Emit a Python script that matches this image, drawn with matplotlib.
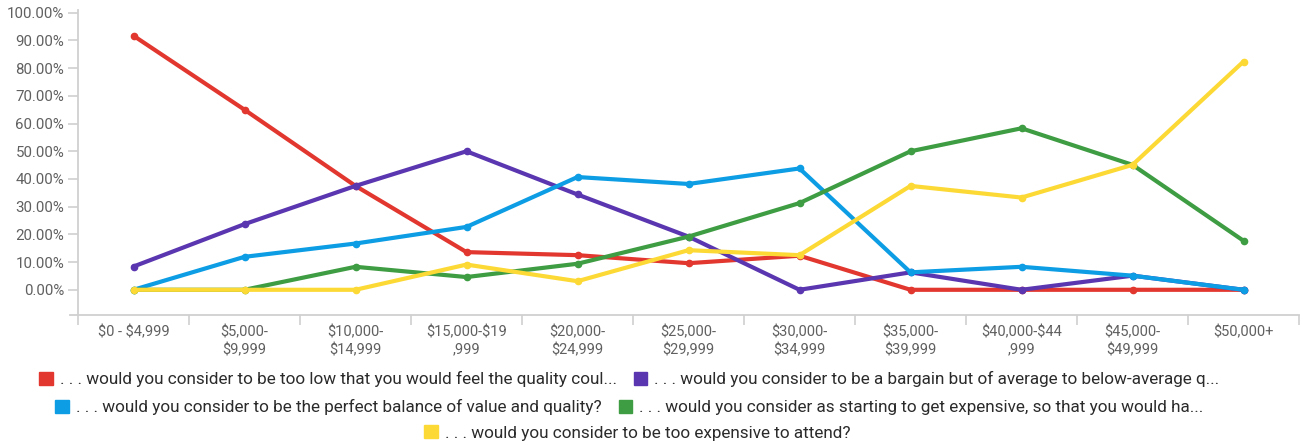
import matplotlib
matplotlib.use("Agg")
import matplotlib.pyplot as plt
from matplotlib.lines import Line2D
from matplotlib.patches import Patch
from matplotlib.ticker import FuncFormatter

plt.rcParams['font.family'] = ['Roboto', 'DejaVu Sans']
plt.rcParams['text.parse_math'] = False

categories = ["$0 - $4,999", "$5,000-\n$9,999", "$10,000-\n$14,999", "$15,000-$19\n,999",
              "$20,000-\n$24,999", "$25,000-\n$29,999", "$30,000-\n$34,999", "$35,000-\n$39,999",
              "$40,000-$44\n,999", "$45,000-\n$49,999", "$50,000+"]

series_names = [
    ". . . would you consider to be too low that you would feel the quality coul...",
    ". . . would you consider to be a bargain but of average to below-average q...",
    ". . . would you consider to be the perfect balance of value and quality?",
    ". . . would you consider as starting to get expensive, so that you would ha...",
    ". . . would you consider to be too expensive to attend?",
]

too_low = [91.7, 65.0, 37.5, 13.6, 12.5, 9.6, 12.3, 0, 0, 0, 0]
bargain = [8.4, 23.7, 37.5, 50.0, 34.4, 19.2, 0, 6.3, 0, 5.1, 0]
balance = [0, 11.9, 16.7, 22.7, 40.7, 38.2, 43.8, 6.3, 8.3, 5.1, 0]
getting_exp = [0, 0, 8.3, 4.6, 9.4, 19.2, 31.3, 50.0, 58.3, 45.1, 17.7]
too_exp = [0, 0, 0, 9.1, 3.1, 14.3, 12.5, 37.5, 33.3, 45.1, 82.4]

yticks = [0, 10, 20, 30, 40, 50, 60, 70, 80, 90, 100]

colors = ["#e2372f", "#5a36b0", "#0c9de4", "#3e9c42", "#fcd935"]
all_series = [too_low, bargain, balance, getting_exp, too_exp]

fig = plt.figure(figsize=(13.03, 4.45), dpi=100)
ax = fig.add_axes([78/1303, 130/445, 1221/1303, 305/445])

x = list(range(len(categories)))
handles = []
for vals, c, name in zip(all_series, colors, series_names):
    ax.plot(x, vals, color=c, lw=3.0, marker='o', markersize=4.5, solid_joinstyle='round',
            solid_capstyle='round', zorder=3)
    handles.append(Patch(facecolor=c, edgecolor=c, label=name))

ax.set_xlim(-0.5, len(categories) - 0.5)
ax.set_ylim(-9.1, 101)
ax.set_yticks(yticks)
ax.yaxis.set_major_formatter(FuncFormatter(lambda v, p: f"{v:.2f}%"))
ax.set_xticks(x)
ax.set_xticklabels(categories)
ax.set_xticks([i - 0.5 for i in range(len(categories) + 1)], minor=True)

gray = "#d0d0d0"
tick_color = "#606060"
for s in ['top', 'right']:
    ax.spines[s].set_visible(False)
for s in ['left', 'bottom']:
    ax.spines[s].set_color(gray)
    ax.spines[s].set_linewidth(1.3)

ax.tick_params(axis='y', length=7, color=gray, width=1.2, labelsize=10.8, labelcolor=tick_color, pad=3)
ax.tick_params(axis='x', which='major', length=0, labelsize=10.5, labelcolor=tick_color, pad=7)
ax.tick_params(axis='x', which='minor', length=7, color=gray, width=1.2)
for lbl in ax.get_xticklabels():
    lbl.set_linespacing(1.35)
    lbl.set_verticalalignment('top')

# extend x-axis line slightly left like the reference
ax.add_line(Line2D([-8/1221, 0], [0, 0], transform=ax.transAxes, color=gray, lw=1.3, clip_on=False))

leg_kw = dict(frameon=False, fontsize=12.3, handlelength=0.8, handleheight=0.8,
              handletextpad=0.4, columnspacing=1.0, labelcolor="#2b2b2b", borderpad=0)
l1 = fig.legend(handles=handles[0:2], ncol=2, loc='center', bbox_to_anchor=(0.483, 1 - 379/445), **leg_kw)
l2 = fig.legend(handles=handles[2:4], ncol=2, loc='center', bbox_to_anchor=(0.483, 1 - 407/445), **leg_kw)
l3 = fig.legend(handles=handles[4:5], ncol=1, loc='center', bbox_to_anchor=(0.489, 1 - 433/445), **leg_kw)

fig.savefig("out.png", dpi=100)
